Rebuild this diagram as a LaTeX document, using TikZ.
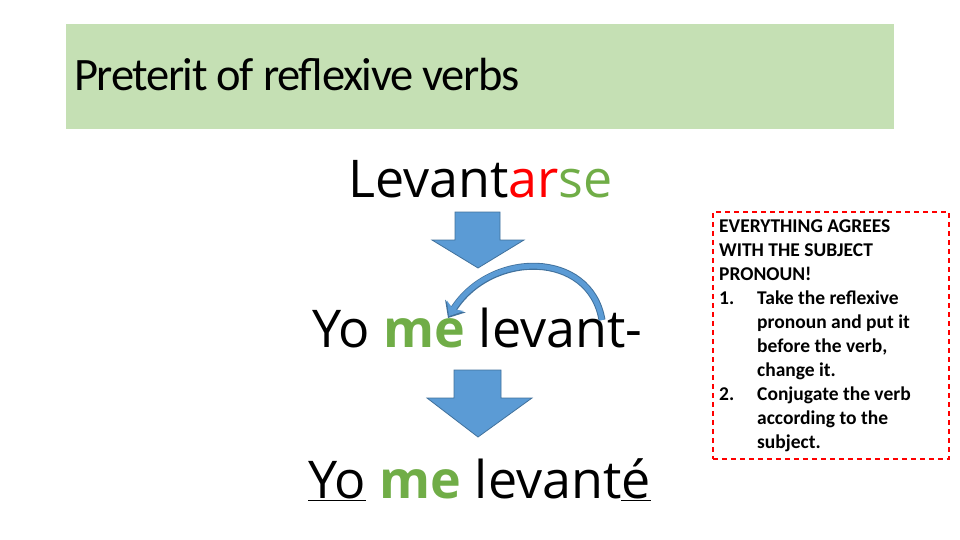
\documentclass[tikz,border=0pt]{standalone}
\usepackage{fontspec}
\setmainfont{Carlito}
\newfontfamily\bigfont{Open Sans}
\usetikzlibrary{arrows.meta}
\definecolor{gbg}{RGB}{197,224,180}
\definecolor{ablue}{RGB}{91,155,213}
\definecolor{aedge}{RGB}{65,113,156}
\definecolor{grn}{RGB}{112,173,71}
\definecolor{rd}{RGB}{255,0,0}
\tikzset{big/.style={font=\bigfont\fontsize{52}{58}\selectfont,anchor=base west,inner sep=0},
 downarr/.style={fill=ablue,draw=aedge,line width=0.8pt},
 bl/.style={anchor=base west,inner sep=0,font=\fontsize{19.5}{24}\selectfont\bfseries}}
\begin{document}
\begin{tikzpicture}[x=1pt,y=-1pt]
\useasboundingbox (0,0) rectangle (960,540);
\fill[gbg] (66,24) rectangle (894,129);
\node[anchor=base west,inner sep=0,font=\fontsize{46.5}{52}\selectfont\addfontfeatures{LetterSpace=-3}] (title) at (74,91) {Preterit of reflexive verbs};
\node[big] (l1) at (348,197) {Levant\textcolor{rd}{ar}\textcolor{grn}{se}};
\node[big] (l2) at (312,347) {Yo \textcolor{grn}{\bfseries me} levant-};
\node[big] (l3) at (308,498) {\underline{Yo} \textcolor{grn}{\bfseries me} levant\underline{é}};
\draw[downarr] (455,212) -- (500,212) -- (500,240) -- (524,240) -- (478,268) -- (432,240) -- (455,240) -- cycle;
\draw[downarr] (454,370) -- (501,370) -- (501,398) -- (532,398) -- (478,437) -- (427,398) -- (454,398) -- cycle;
\draw[aedge,line width=7pt,-{Stealth[length=14pt,width=24pt]}] (602,320) .. controls (590,250) and (490,250) .. (448,318);
\draw[ablue,line width=5pt,-{Stealth[length=12pt,width=20pt]}] (602,320) .. controls (590,250) and (490,250) .. (449,316);
\node[draw=rd,line width=1.8pt,dash pattern=on 5pt off 4pt,minimum width=236pt,minimum height=247pt,anchor=north west] (box) at (712,211) {};
\node[bl] (t1) at (719,232) {EVERYTHING AGREES};
\node[bl] (t2) at (719,256) {WITH THE SUBJECT};
\node[bl] (t3) at (719,280) {PRONOUN!};
\node[bl] (n1) at (719,304) {1.};
\node[bl] (t4) at (757,304) {Take the reflexive};
\node[bl] (t5) at (757,328) {pronoun and put it};
\node[bl] (t6) at (757,352) {before the verb,};
\node[bl] (t7) at (757,376) {change it.};
\node[bl] (n2) at (719,400) {2.};
\node[bl] (t8) at (757,400) {Conjugate the verb};
\node[bl] (t9) at (757,424) {according to the};
\node[bl] (t10) at (757,448) {subject.};
\end{tikzpicture}
\end{document}
